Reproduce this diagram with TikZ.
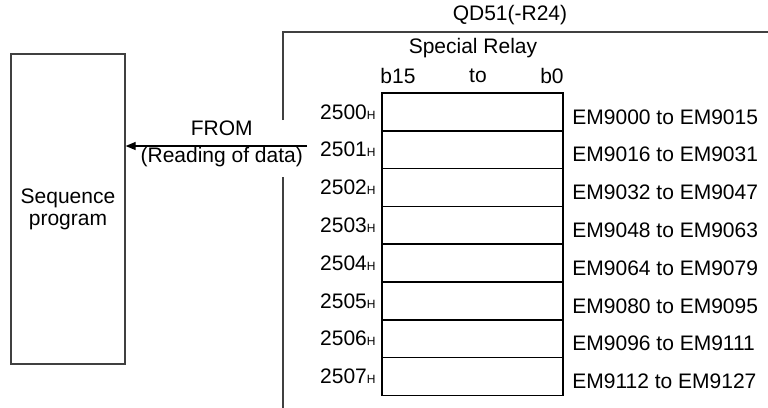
\documentclass[tikz,border=0pt]{standalone}
\usepackage{fontspec}
\setmainfont{Liberation Sans}
\usetikzlibrary{arrows.meta, positioning}

\newcommand{\hexaddr}[1]{#1{\fontsize{6}{6}\selectfont H}}

\begin{document}
\begin{tikzpicture}[
  x=0.5pt, y=-0.5pt,
  font=\fontsize{10.5}{11}\selectfont,
  seqbox/.style={rectangle, draw=black!75, line width=0.65pt, minimum width=57pt, minimum height=155pt, align=center},
  relay/.style={rectangle, draw=black, line width=0.85pt, minimum width=90.5pt, minimum height=18.9pt, inner sep=0pt, outer sep=0pt},
  addr/.style={inner sep=0pt},
  devno/.style={inner sep=0pt, yshift=-2.5pt},
  frame/.style={draw=black!75, line width=0.65pt},
  arr/.style={-{Triangle[length=5pt, width=4pt]}, line width=0.65pt}
]
  \useasboundingbox (0,0) rectangle (768,408);

  \node[seqbox] (seq) at (68,209) {Sequence\\program};

  % module frame
  \draw[frame] (283,120) |- (768,32);
  \draw[frame] (283,177) -- (283,408);
  \node (module) at (510,15) {QD51(-R24)};

  % special relay
  \node (title) at (473,48) {Special Relay};
  \node (bhigh) at (398,76) {b15};
  \node (bto) at (478,76) {to};
  \node (blow) at (552,76) {b0};

  \node[relay] (r0) at (472.5,111.9) {};
  \node[relay, below=0pt of r0] (r1) {};
  \node[relay, below=0pt of r1] (r2) {};
  \node[relay, below=0pt of r2] (r3) {};
  \node[relay, below=0pt of r3] (r4) {};
  \node[relay, below=0pt of r4] (r5) {};
  \node[relay, below=0pt of r5] (r6) {};
  \node[relay, below=0pt of r6] (r7) {};

  % addresses
  \node[addr, left=3pt of r0] (a0) {\hexaddr{2500}};
  \node[addr, left=3pt of r1] (a1) {\hexaddr{2501}};
  \node[addr, left=3pt of r2] (a2) {\hexaddr{2502}};
  \node[addr, left=3pt of r3] (a3) {\hexaddr{2503}};
  \node[addr, left=3pt of r4] (a4) {\hexaddr{2504}};
  \node[addr, left=3pt of r5] (a5) {\hexaddr{2505}};
  \node[addr, left=3pt of r6] (a6) {\hexaddr{2506}};
  \node[addr, left=3pt of r7] (a7) {\hexaddr{2507}};

  % device numbers
  \node[devno, right=4.5pt of r0] (d0) {EM9000 to EM9015};
  \node[devno, right=4.5pt of r1] (d1) {EM9016 to EM9031};
  \node[devno, right=4.5pt of r2] (d2) {EM9032 to EM9047};
  \node[devno, right=4.5pt of r3] (d3) {EM9048 to EM9063};
  \node[devno, right=4.5pt of r4] (d4) {EM9064 to EM9079};
  \node[devno, right=4.5pt of r5] (d5) {EM9080 to EM9095};
  \node[devno, right=4.5pt of r6] (d6) {EM9096 to EM9111};
  \node[devno, right=4.5pt of r7] (d7) {EM9112 to EM9127};

  % FROM instruction
  \coordinate (readstart) at (307,146);
  \draw[arr] (readstart) -- (seq.east |- readstart)
    node[pos=0.47, above=5pt, inner sep=0pt] (fromlbl) {FROM}
    node[pos=0.47, below=0.5pt, inner sep=0pt] (readlbl) {(Reading of data)};
\end{tikzpicture}
\end{document}
